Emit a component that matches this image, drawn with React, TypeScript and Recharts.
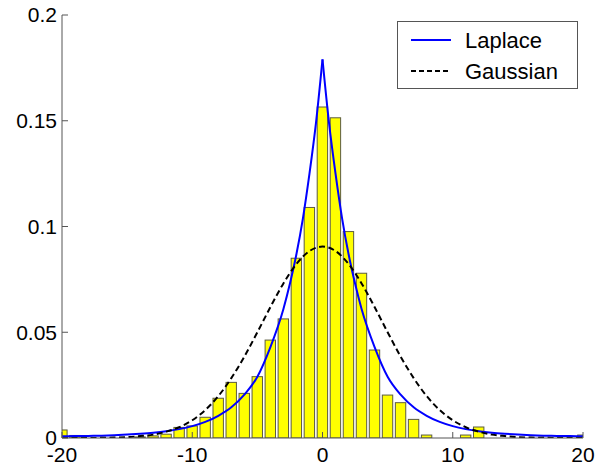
import React from 'react';
import { ComposedChart, Bar, Line, XAxis, YAxis } from 'recharts';

// histogram bins (centres) and normalised counts
const binCenters = [
  -20, -19, -18, -17, -16, -15, -14, -13, -12, -11, -10, -9, -8, -7, -6, -5, -4, -3, -2, -1,
  0, 1, 2, 3, 4, 5, 6, 7, 8, 9, 10, 11, 12, 13, 14, 15, 16, 17, 18, 19, 20,
];
const binHeights = [
  0.0038, 0.0012, 0, 0, 0, 0, 0.0005, 0.001, 0.0018, 0.005, 0.0057, 0.0098, 0.0188, 0.0263, 0.0211, 0.029, 0.0463, 0.0563, 0.085, 0.109,
  0.1565, 0.1514, 0.0976, 0.0779, 0.0416, 0.0203, 0.0167, 0.0088, 0.0014, 0, 0, 0.0014, 0.0052, 0, 0, 0, 0, 0, 0, 0, 0.0014,
];

// Laplace fit (left half runs up to the peak, right half down from it)
const laplaceLeftX = [-20, -19, -18, -17, -16, -15, -14, -13, -12, -11, -10, -9, -8, -7, -6, -5, -4, -3, -2.5, -2, -1.5, -1, -0.5, 0];
const laplaceLeftY = [
  0.0008, 0.0009, 0.001, 0.0011, 0.0013, 0.0016, 0.002, 0.0025, 0.0032, 0.0042, 0.0056, 0.0076, 0.0105, 0.0145, 0.0205, 0.029,
  0.043, 0.061, 0.073, 0.087, 0.104, 0.125, 0.149, 0.179,
];
const laplaceRightX = [0, 0.5, 1, 1.5, 2, 2.5, 3, 4, 5, 6, 7, 8, 9, 10, 11, 12, 13, 14, 15, 16, 17, 18, 19, 20];
const laplaceRightY = [
  0.179, 0.149, 0.125, 0.104, 0.087, 0.073, 0.061, 0.043, 0.029, 0.0205, 0.0145, 0.0105, 0.0076, 0.0056, 0.0042, 0.0032, 0.0025,
  0.002, 0.0016, 0.0013, 0.0011, 0.001, 0.0009, 0.0008,
];

// Gaussian fit
const gaussX = [
  -20, -19, -18, -17, -16, -15, -14, -13, -12, -11, -10, -9, -8, -7, -6, -5, -4, -3, -2, -1,
  0, 1, 2, 3, 4, 5, 6, 7, 8, 9, 10, 11, 12, 13, 14, 15, 16, 17, 18, 19, 20,
];
const gaussY = [
  0, 0, 0, 0.0001, 0.0002, 0.0004, 0.0009, 0.0016, 0.003, 0.0051, 0.0084, 0.0132, 0.0198, 0.0283, 0.0385, 0.05, 0.0619, 0.0731, 0.0823, 0.0884,
  0.0905, 0.0884, 0.0823, 0.0731, 0.0619, 0.05, 0.0385, 0.0283, 0.0198, 0.0132, 0.0084, 0.0051, 0.003, 0.0016, 0.0009, 0.0004, 0.0002, 0.0001, 0, 0, 0,
];

const xTicks = [-20, -10, 0, 10, 20];
const yTicks = [0, 0.05, 0.1, 0.15, 0.2];

const histData = binCenters.map((x, i) => ({ x, h: binHeights[i] }));
const laplaceLeft = laplaceLeftX.map((x, i) => ({ x, y: laplaceLeftY[i] }));
const laplaceRight = laplaceRightX.map((x, i) => ({ x, y: laplaceRightY[i] }));
const gaussData = gaussX.map((x, i) => ({ x, y: gaussY[i] }));

const FONT = 'Liberation Sans, Arial, Helvetica, sans-serif';
const AXIS = '#555';
const BAR_W = 10.4; // 0.8 of a bin, like matlab's bar()

// keep the library's x position (centre) and height, only widen the rect
const HistBar = (props: any) => {
  const { x, y, width, height } = props;
  if (!height || height <= 0) return null;
  const cx = x + width / 2;
  return (
    <rect
      x={cx - BAR_W / 2}
      y={y}
      width={BAR_W}
      height={height}
      fill="#ffff00"
      stroke="#5c5c40"
      strokeWidth={1}
    />
  );
};

const ChartLegend = () => (
  <div
    style={{
      position: 'absolute',
      left: 397,
      top: 21,
      width: 179,
      height: 66,
      border: `1px solid ${AXIS}`,
      background: '#fff',
    }}
  >
    <svg width={179} height={66} style={{ position: 'absolute', left: 0, top: 0 }}>
      <line x1={13} x2={53} y1={18} y2={18} stroke="#0000ff" strokeWidth={2} />
      <line x1={13} x2={53} y1={49} y2={49} stroke="#000" strokeWidth={2} strokeDasharray="5 3" />
      <text x={67} y={18} dy="0.36em" fontFamily={FONT} fontSize={22}>Laplace</text>
      <text x={67} y={49} dy="0.36em" fontFamily={FONT} fontSize={22}>Gaussian</text>
    </svg>
  </div>
);

export default function App() {
  return (
    <div style={{ position: 'absolute', left: 0, top: 0, width: 597, height: 468, background: '#fff' }}>
      <ComposedChart
        width={597}
        height={468}
        data={histData}
        margin={{ top: 15, right: 14, left: 0, bottom: 0 }}
      >
        <XAxis
          dataKey="x"
          type="number"
          domain={[-20, 20]}
          ticks={xTicks}
          allowDataOverflow
          height={30}
          stroke={AXIS}
          tickSize={-6}
          tickMargin={15}
          tick={{ fill: '#000', fontSize: 21, fontFamily: FONT }}
        />
        <XAxis
          xAxisId="top"
          orientation="top"
          dataKey="x"
          type="number"
          domain={[-20, 20]}
          ticks={xTicks}
          allowDataOverflow
          height={0}
          stroke={AXIS}
          tickSize={-6}
          tick={false}
        />
        <YAxis
          type="number"
          domain={[0, 0.2]}
          ticks={yTicks}
          allowDataOverflow
          width={62}
          stroke={AXIS}
          tickSize={-6}
          tickMargin={11}
          tick={{ fill: '#000', fontSize: 21, fontFamily: FONT }}
        />
        <YAxis
          yAxisId="right"
          orientation="right"
          type="number"
          domain={[0, 0.2]}
          ticks={yTicks}
          allowDataOverflow
          width={0}
          stroke={AXIS}
          tickSize={-6}
          tick={false}
        />
        <Bar dataKey="h" shape={HistBar} isAnimationActive={false} />
        <Line data={laplaceLeft} dataKey="y" type="monotone" stroke="#0000ff" strokeWidth={2} dot={false} isAnimationActive={false} />
        <Line data={laplaceRight} dataKey="y" type="monotone" stroke="#0000ff" strokeWidth={2} dot={false} isAnimationActive={false} />
        <Line
          data={gaussData}
          dataKey="y"
          type="monotone"
          stroke="#000"
          strokeWidth={2}
          strokeDasharray="6 3.5"
          dot={false}
          isAnimationActive={false}
        />
      </ComposedChart>
      <ChartLegend />
    </div>
  );
}
